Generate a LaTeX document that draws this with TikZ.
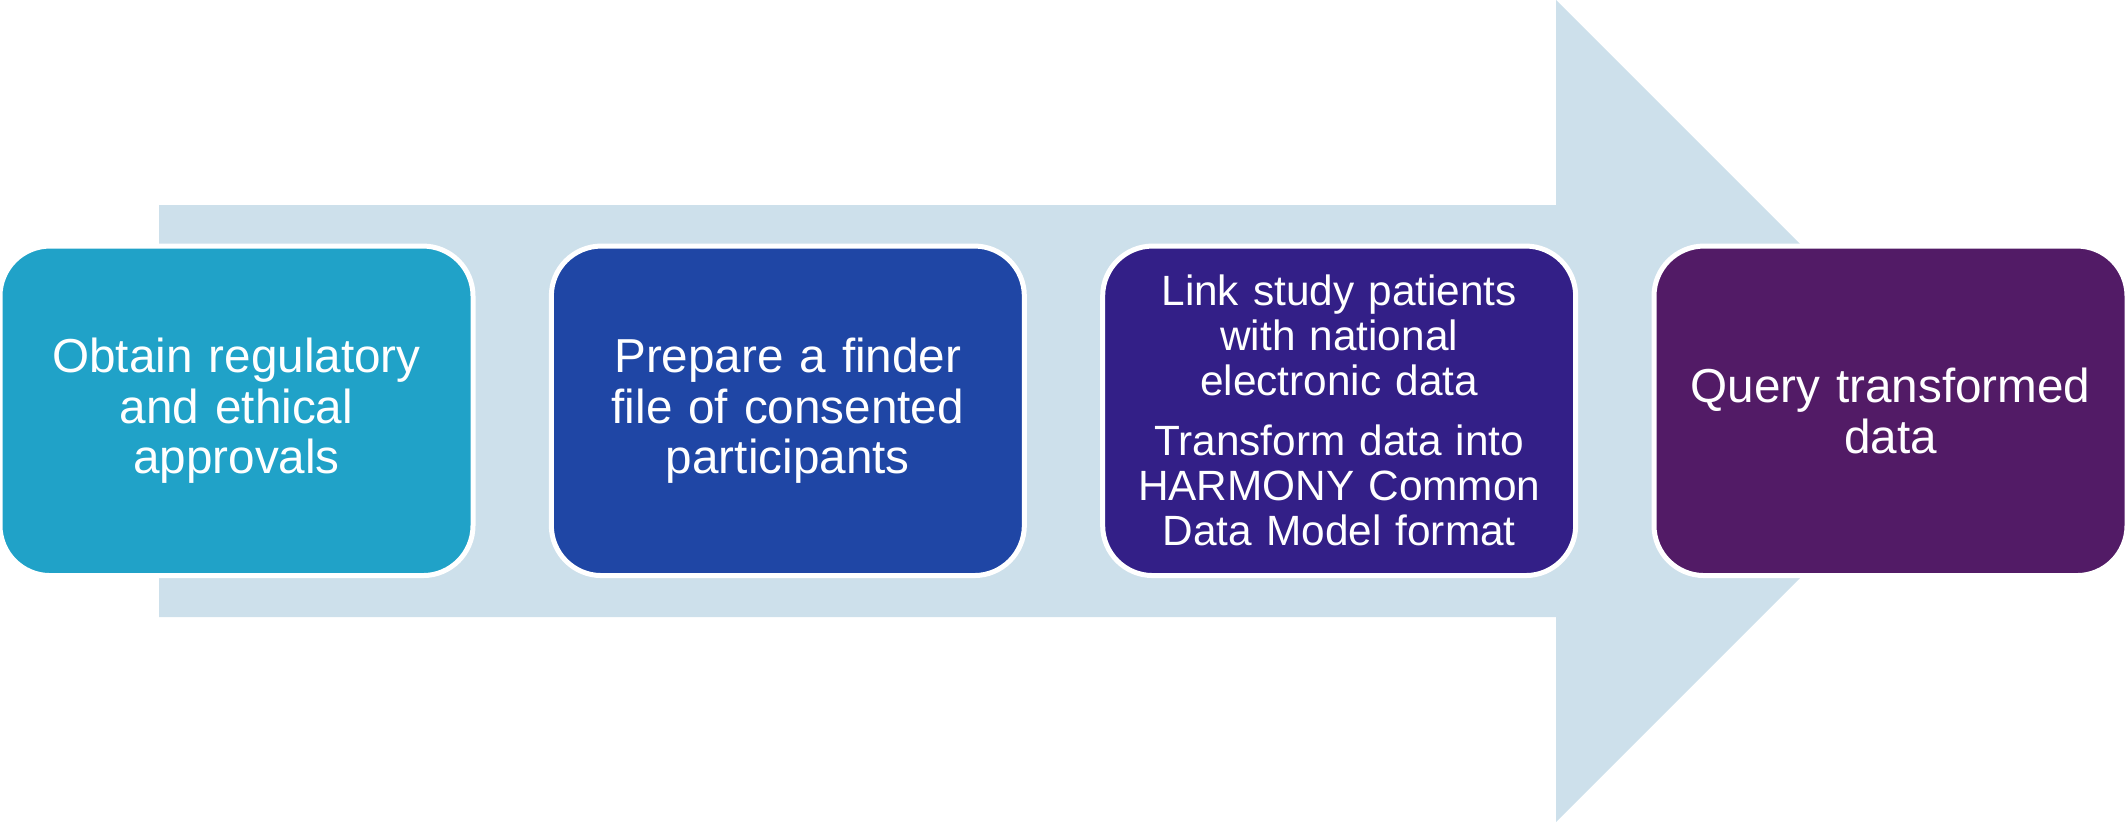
\documentclass[tikz,border=0pt]{standalone}
\usepackage{fontspec}
\setmainfont{Liberation Sans}
\usetikzlibrary{positioning}
\definecolor{arrowblue}{RGB}{205,224,235}
\definecolor{stepcyan}{RGB}{32,162,200}
\definecolor{stepblue}{RGB}{31,70,165}
\definecolor{stepindigo}{RGB}{51,31,135}
\definecolor{steppurple}{RGB}{82,27,102}

\begin{document}
\begin{tikzpicture}[x=0.3pt, y=-0.3pt,
    stepbox/.style={draw=white, line width=1.5pt, rounded corners=15pt, outer sep=0pt, inner sep=0pt,
        minimum width=141.9pt, minimum height=98.85pt, text width=126pt, align=center, text=white,
        font=\fontsize{14.3}{15.1}\selectfont},
    node distance=23.5pt]
    \useasboundingbox (0,0) rectangle (2125,822);
    \fill[arrowblue] (159,205) -- (1556,205) -- (1556,0) -- (1967,411) -- (1556,822) -- (1556,617) -- (159,617) -- cycle;
    \node[stepbox, fill=stepcyan] (approvals) at (236.5,410.8) {Obtain regulatory\\ and ethical\\ approvals};
    \node[stepbox, fill=stepblue, right=of approvals] (finder) {Prepare a finder\\ file of consented\\ participants};
    \node[stepbox, fill=stepindigo, right=of finder, font=\fontsize{12.7}{13.5}\selectfont] (linkage) {Link study patients\\ with national\\ electronic data\\[4.5pt] Transform data into\\ HARMONY Common\\ Data Model format};
    \node[stepbox, fill=steppurple, right=of linkage] (query) {Query transformed\\ data};
\end{tikzpicture}
\end{document}
